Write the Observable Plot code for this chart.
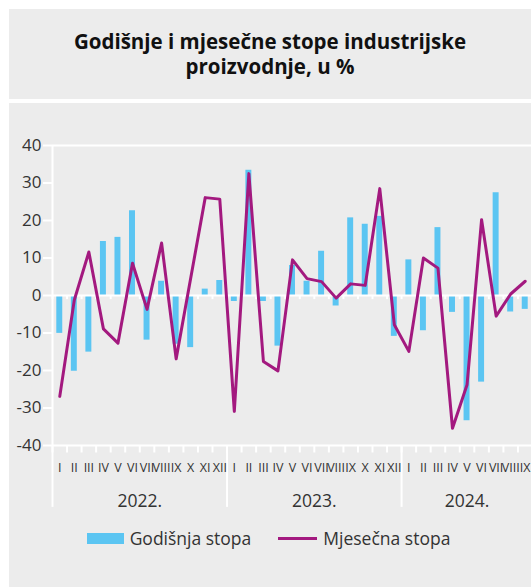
<!DOCTYPE html>
<html>
<head>
<meta charset="utf-8">
<script src="https://cdn.jsdelivr.net/npm/d3@7"></script>
<script src="https://cdn.jsdelivr.net/npm/@observablehq/plot@0.6"></script>
<style>
  html, body { margin: 0; padding: 0; background: #fff; }
  #wrap { position: relative; width: 531px; height: 587px; overflow: hidden; font-family: "Open Sans", sans-serif; }
  #titlebox { position: absolute; left: 9px; top: 9px; width: 522px; height: 90px; background: #ececec;
    box-sizing: border-box; padding-top: 20px; text-align: center; font-weight: 700; font-size: 20.5px; line-height: 25px; color: #111; }
  #panel { position: absolute; left: 9px; top: 103px; width: 522px; height: 484px; background: #ececec; }
  #chart { position: absolute; left: 0; top: 103px; }
  #legend { position: absolute; left: 0; top: 526px; width: 537px; display: flex; justify-content: center; align-items: center;
    font-size: 17.5px; color: #333; }
  .sw { display: inline-block; width: 37px; height: 11px; background: #5bc5f2; margin-right: 6px; }
  .ln { display: inline-block; width: 39px; height: 3px; background: #a3197f; margin-right: 6px; margin-left: 27px; }
</style>
</head>
<body>
<div id="wrap">
  <div id="titlebox">Godišnje i mjesečne stope industrijske<br>proizvodnje, u %</div>
  <div id="panel"></div>
  <div id="chart"></div>
  <div id="legend"><span class="sw"></span><span>Godišnja stopa</span><span class="ln"></span><span>Mjesečna stopa</span></div>
</div>
<script>
const monthNames = ["I","II","III","IV","V","VI","VII","VIII","IX","X","XI","XII"];
const years = ["2022.", "2023.", "2024."];
const monthsPerYear = [12, 12, 9];

// Godišnja stopa (bars)
const annual = [
  -10.1, -20.2, -15.1, 14.4, 15.5, 22.6, -11.9, 3.8, -13.0, -13.9, 1.7, 4.0,
  -1.6, 33.4, -1.6, -13.5, 8.0, 3.8, 11.8, -2.8, 20.7, 19.0, 21.1, -10.9,
  9.5, -9.4, 18.1, -4.5, -33.4, -23.1, 27.4, -4.4, -3.7
];
// Mjesečna stopa (line)
const monthly = [
  -26.9, -1.2, 11.6, -8.9, -12.7, 8.6, -3.7, 14.0, -16.9, 4.6, 26.1, 25.7,
  -30.9, 32.5, -17.6, -20.1, 9.5, 4.5, 3.7, -0.7, 3.1, 2.7, 28.5, -7.8,
  -14.9, 10.0, 7.3, -35.4, -23.8, 20.2, -5.5, 0.4, 3.8
];
const yTicks = [-40, -30, -20, -10, 0, 10, 20, 30, 40];

const rows = [];
const yearRows = [];
let idx = 0;
years.forEach((y, k) => {
  const start = idx;
  for (let m = 0; m < monthsPerYear[k]; m++) {
    rows.push({i: idx, year: y, month: monthNames[m], annual: annual[idx], monthly: monthly[idx]});
    idx++;
  }
  yearRows.push({year: y, start, end: idx, mid: (start + idx) / 2});
});
const n = rows.length;
const bounds = d3.range(0, n + 1);

const chart = Plot.plot({
  width: 532,
  height: 412,
  marginTop: 42,
  marginBottom: 70,
  marginLeft: 52,
  marginRight: 0,
  x: {domain: [0, n], axis: null},
  y: {domain: [-40, 40], axis: null},
  style: {background: "transparent", fontFamily: "Open Sans", overflow: "visible", maxWidth: "none"},
  marks: [
    Plot.rectY(rows, {x1: d => d.i + 0.295, x2: d => d.i + 0.705, y: "annual", fill: "#5bc5f2"}),
    Plot.ruleY([40, 0, -40], {stroke: "white", strokeWidth: 2}),
    Plot.ruleX([0], {y1: 40, y2: -40, stroke: "white", strokeWidth: 2}),
    Plot.ruleX(bounds, {y1: 0, y2: -1.1, stroke: "white", strokeWidth: 2}),
    Plot.ruleX(bounds, {y1: -40, y2: -42, stroke: "white", strokeWidth: 2}),
    Plot.ruleX(yearRows, {x: "start", y1: -40, y2: -56.5, stroke: "white", strokeWidth: 2}),
    Plot.axisY(yTicks, {anchor: "left", tickSize: 9, tickPadding: 2, stroke: "white", strokeWidth: 2, fill: "#333", fontSize: 17, tickFormat: d => String(d)}),
    Plot.line(rows, {x: d => d.i + 0.5, y: "monthly", stroke: "#a3197f", strokeWidth: 3}),
    Plot.text(rows, {x: d => d.i + 0.5, y: -40, dy: 22, text: "month", fill: "#333", fontSize: 12.5}),
    Plot.text(yearRows, {x: "mid", y: -40, dy: 56, text: "year", fill: "#333", fontSize: 17.5})
  ]
});
document.getElementById("chart").appendChild(chart);
</script>
</body>
</html>
